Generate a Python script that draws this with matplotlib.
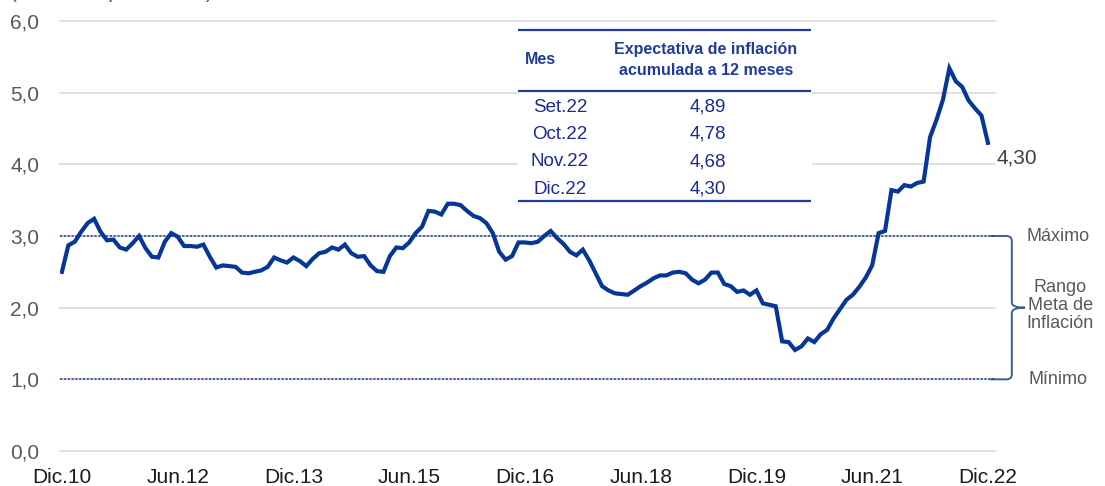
#!/usr/bin/env python3
"""
Expectativa de inflación a 12 meses (Dic.10 - Dic.22), con rango meta
"""

import numpy as np
import matplotlib
matplotlib.use("Agg")
import matplotlib.pyplot as plt
from matplotlib.path import Path
from matplotlib.patches import PathPatch
from matplotlib.transforms import blended_transform_factory

# ====================== DATA ======================
# expectativa mensual, desde Dic.10 hasta Dic.22 (145 meses)
expectativa = [
    2.50, 2.87, 2.92, 3.06, 3.18, 3.24, 3.06, 2.94, 2.95, 2.84, 2.81, 2.90,
    3.00, 2.83, 2.71, 2.70, 2.92, 3.04, 2.99, 2.86, 2.86, 2.85, 2.88, 2.71,
    2.56, 2.59, 2.58, 2.57, 2.49, 2.48, 2.50, 2.52, 2.57, 2.70, 2.66, 2.63,
    2.70, 2.65, 2.58, 2.68, 2.76, 2.78, 2.84, 2.81, 2.88, 2.76, 2.71, 2.72,
    2.59, 2.51, 2.50, 2.72, 2.84, 2.83, 2.91, 3.04, 3.13, 3.35, 3.34, 3.30,
    3.45, 3.45, 3.43, 3.35, 3.28, 3.25, 3.18, 3.04, 2.78, 2.67, 2.72, 2.91,
    2.91, 2.90, 2.92, 3.00, 3.07, 2.97, 2.89, 2.78, 2.73, 2.81, 2.66, 2.48,
    2.30, 2.24, 2.20, 2.19, 2.18, 2.24, 2.30, 2.35, 2.41, 2.45, 2.45, 2.49,
    2.50, 2.48, 2.39, 2.34, 2.39, 2.49, 2.49, 2.33, 2.30, 2.22, 2.24, 2.18,
    2.24, 2.06, 2.04, 2.02, 1.53, 1.52, 1.41, 1.46, 1.57, 1.52, 1.63, 1.69,
    1.85, 1.98, 2.11, 2.18, 2.29, 2.42, 2.59, 3.04, 3.07, 3.64, 3.62, 3.71,
    3.69, 3.74, 3.76, 4.38, 4.62, 4.90, 5.34, 5.16, 5.08, 4.89, 4.78, 4.68,
    4.30,
]
tick_labels = ["Dic.10", "Jun.12", "Dic.13", "Jun.15", "Dic.16",
               "Jun.18", "Dic.19", "Jun.21", "Dic.22"]
y_ticks = [0, 1, 2, 3, 4, 5, 6]
rango_max = 3.0
rango_min = 1.0

tabla_meses = ["Set.22", "Oct.22", "Nov.22", "Dic.22"]
tabla_valores = [4.89, 4.78, 4.68, 4.30]
# ==================================================

plt.rcParams["font.family"] = ["Liberation Sans", "DejaVu Sans"]

LINE_BLUE = "#063797"
TABLE_BLUE = "#1f3c99"
GRAY_TXT = "#595959"

fig = plt.figure(figsize=(11.05, 4.86), dpi=100)
ax = fig.add_axes([60 / 1105, 35 / 486, 935 / 1105, 430 / 486])

x = np.arange(len(expectativa))
ax.plot(x, expectativa, color=LINE_BLUE, lw=3.0, solid_joinstyle="miter", zorder=4)

ax.set_xlim(-0.3, 145.1)
ax.set_ylim(0, 6)

# grid + rango meta
for yv in y_ticks:
    ax.axhline(yv, color="#d9d9d9", lw=1.2, zorder=1, clip_on=False)
for yv in (rango_max, rango_min):
    ax.axhline(yv, color=TABLE_BLUE, lw=1.1, ls=(0, (1.5, 1)), zorder=2)

ax.set_yticks(y_ticks)
ax.set_yticklabels([f"{v:.1f}".replace(".", ",") for v in y_ticks])
ax.set_xticks(np.arange(0, len(expectativa), 18))
ax.set_xticklabels(tick_labels)
ax.tick_params(axis="y", length=0, pad=15, labelsize=15, labelcolor=GRAY_TXT)
ax.tick_params(axis="x", length=0, pad=12, labelsize=15, labelcolor="#1a1a1a")
for s in ax.spines.values():
    s.set_visible(False)

# ultimo valor
last = expectativa[-1]
ax.annotate(f"{last:.2f}".replace(".", ","), xy=(x[-1], last), xytext=(6, -11),
            textcoords="offset points", ha="left", va="center",
            fontsize=15, color="#404040")

# llave del rango meta
tr = blended_transform_factory(ax.transAxes, ax.transData)
xb0, xb1, xb2 = 0.995, 1.018, 1.032
mid = (rango_max + rango_min) / 2
r = 0.07
verts = [
    (xb0, rango_max), (xb1 - 0.006, rango_max),
    (xb1, rango_max), (xb1, rango_max - r),
    (xb1, mid + r),
    (xb1, mid), (xb2, mid),
    (xb1, mid), (xb1, mid - r),
    (xb1, rango_min + r),
    (xb1, rango_min), (xb1 - 0.006, rango_min),
    (xb0, rango_min),
]
codes = [Path.MOVETO, Path.LINETO,
         Path.CURVE3, Path.CURVE3,
         Path.LINETO,
         Path.CURVE3, Path.CURVE3,
         Path.CURVE3, Path.CURVE3,
         Path.LINETO,
         Path.CURVE3, Path.CURVE3,
         Path.LINETO]
ax.add_patch(PathPatch(Path(verts, codes), transform=tr, fill=False,
                       edgecolor="#3b5e95", lw=1.4, clip_on=False))

ax.text(1.067, rango_max, "Máximo", transform=tr, ha="center", va="center",
        fontsize=13, color=GRAY_TXT)
ax.text(1.067, rango_min, "Mínimo", transform=tr, ha="center", va="center",
        fontsize=13, color=GRAY_TXT)
ax.text(1.070, mid + 0.03, "Rango\nMeta de\nInflación", transform=tr,
        ha="center", va="center", fontsize=13, color=GRAY_TXT, linespacing=1.1)

# titulo cortado arriba (en la referencia solo asoman los descendentes)
fig.text(10 / 1105, 1 + 1.5 / 486, "(Variación porcentual)", ha="left",
         va="baseline", fontsize=15, color=GRAY_TXT)

# tabla
tax = fig.add_axes([518 / 1105, (486 - 204) / 486, 294 / 1105, 182 / 486], zorder=5)
tax.set_facecolor("white")
tax.set_xlim(518, 812)
tax.set_ylim(204, 22)
tax.set_xticks([])
tax.set_yticks([])
for s in tax.spines.values():
    s.set_visible(False)

for yl in (30, 91.5, 201.5):
    tax.plot([518, 811], [yl, yl], color=TABLE_BLUE, lw=1.6, solid_capstyle="butt")

tax.text(540, 60, "Mes", ha="center", va="center", fontsize=11.5,
         fontweight="bold", color=TABLE_BLUE)
tax.text(706, 60, "Expectativa de inflación\nacumulada a 12 meses", ha="center",
         va="center", fontsize=11.5, fontweight="bold", color=TABLE_BLUE,
         linespacing=1.45)

row_y = [107, 134.3, 161.7, 189.3]
for mes, val, yy in zip(tabla_meses, tabla_valores, row_y):
    tax.text(560, yy, mes, ha="center", va="center", fontsize=13.5, color="#1c2a92")
    tax.text(708, yy, f"{val:.2f}".replace(".", ","), ha="center", va="center",
             fontsize=13.5, color="#1c2a92")

fig.savefig("out.png", dpi=100)
